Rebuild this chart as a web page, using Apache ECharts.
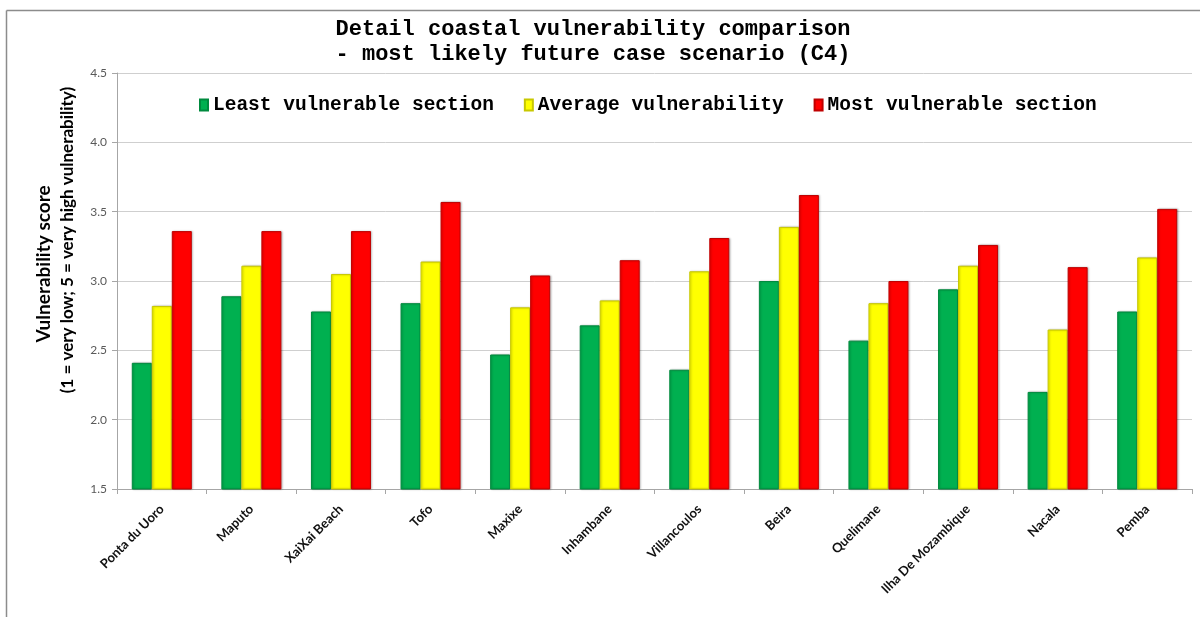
<!DOCTYPE html>
<html>
<head>
<meta charset="utf-8">
<title>Detail coastal vulnerability comparison</title>
<script src="https://cdn.jsdelivr.net/npm/echarts@6/dist/echarts.min.js"></script>
<style>
  html, body { margin: 0; padding: 0; background: #ffffff; }
  #chart { width: 1200px; height: 617px; }
</style>
</head>
<body>
<div id="chart"></div>
<script>
// Coastal sites along the Mozambique coast
const sites = ['Ponta du Uoro', 'Maputo', 'XaiXai Beach', 'Tofo', 'Maxixe', 'Inhambane',
  'Villancoulos', 'Beira', 'Quelimane', 'Ilha De Mozambique', 'Nacala', 'Pemba'];

// Vulnerability scores per site (C4 scenario)
const leastVulnerable = [2.41, 2.89, 2.78, 2.84, 2.47, 2.68, 2.36, 3.00, 2.57, 2.94, 2.20, 2.78];
const averageVulnerability = [2.82, 3.11, 3.05, 3.14, 2.81, 2.86, 3.07, 3.39, 2.84, 3.11, 2.65, 3.17];
const mostVulnerable = [3.36, 3.36, 3.36, 3.57, 3.04, 3.15, 3.31, 3.62, 3.00, 3.26, 3.10, 3.52];

const seriesNames = ['Least vulnerable section', 'Average vulnerability', 'Most vulnerable section'];
const yTicks = { min: 1.5, max: 4.5, step: 0.5 };

const mono = '"Liberation Mono", "Courier New", monospace';
const sans = 'Lato, "Open Sans", sans-serif';

// flat fill with a thin darker edge and a soft right-hand shadow
function barStyle(color, edge) {
  return {
    color: color,
    borderColor: edge,
    borderWidth: 1,
    shadowColor: 'rgba(0,0,0,0.25)',
    shadowBlur: 2,
    shadowOffsetX: 1,
    shadowOffsetY: 0
  };
}

const chart = echarts.init(document.getElementById('chart'), null, { renderer: 'canvas' });

chart.setOption({
  backgroundColor: '#ffffff',
  animation: false,
  title: {
    text: 'Detail coastal vulnerability comparison\n- most likely future case scenario (C4)',
    left: 588,
    textAlign: 'center',
    top: 12,
    textStyle: {
      fontFamily: mono,
      fontWeight: 'bold',
      fontSize: 22,
      lineHeight: 25,
      color: '#000000'
    }
  },
  legend: {
    data: seriesNames,
    left: 194,
    top: 90,
    itemWidth: 8,
    itemHeight: 11,
    itemGap: 30,
    icon: 'rect',
    textStyle: {
      fontFamily: mono,
      fontWeight: 'bold',
      fontSize: 19.5,
      color: '#000000'
    }
  },
  grid: {
    left: 117,
    right: 8,
    top: 73,
    bottom: 128,
    containLabel: false
  },
  xAxis: {
    type: 'category',
    data: sites,
    axisLine: { lineStyle: { color: '#a6a6a6', width: 1 } },
    axisTick: { show: true, length: 5, lineStyle: { color: '#a6a6a6' } },
    axisLabel: {
      rotate: 45,
      interval: 0,
      margin: 18,
      fontFamily: sans,
      fontWeight: 'bold',
      fontSize: 13,
      color: '#111111'
    },
    splitLine: { show: false }
  },
  yAxis: {
    type: 'value',
    min: yTicks.min,
    max: yTicks.max,
    interval: yTicks.step,
    axisLine: { show: true, lineStyle: { color: '#a6a6a6', width: 1 } },
    axisTick: { show: true, length: 5, lineStyle: { color: '#a6a6a6' } },
    axisLabel: {
      margin: 10,
      fontFamily: sans,
      fontSize: 12,
      color: '#595959',
      formatter: v => v.toFixed(1)
    },
    splitLine: { show: true, lineStyle: { color: '#cfcfcf', width: 1 } }
  },
  series: [
    {
      name: seriesNames[0],
      type: 'bar',
      data: leastVulnerable,
      barWidth: 20,
      barGap: '0%',
      itemStyle: barStyle('#00B050', '#008a3e')
    },
    {
      name: seriesNames[1],
      type: 'bar',
      data: averageVulnerability,
      barWidth: 20,
      barGap: '0%',
      itemStyle: barStyle('#FFFF00', '#c8c800')
    },
    {
      name: seriesNames[2],
      type: 'bar',
      data: mostVulnerable,
      barWidth: 20,
      barGap: '0%',
      itemStyle: barStyle('#FF0000', '#c00000')
    }
  ],
  graphic: [
    // outer frame: top and left edges
    {
      type: 'line',
      shape: { x1: 6.5, y1: 10.5, x2: 1200, y2: 10.5 },
      style: { stroke: '#8c8c8c', lineWidth: 1.5 },
      silent: true
    },
    {
      type: 'line',
      shape: { x1: 6.5, y1: 10.5, x2: 6.5, y2: 617 },
      style: { stroke: '#8c8c8c', lineWidth: 1.5 },
      silent: true
    },
    // y-axis title (two lines)
    {
      type: 'text',
      x: 44,
      y: 264,
      rotation: Math.PI / 2,
      style: {
        text: 'Vulnerability score',
        fontFamily: sans,
        fontWeight: 'bold',
        fontSize: 19,
        fill: '#000000',
        align: 'center',
        verticalAlign: 'middle'
      }
    },
    {
      type: 'text',
      x: 68,
      y: 240,
      rotation: Math.PI / 2,
      style: {
        text: '(1 = very low; 5 = very high vulnerability)',
        fontFamily: sans,
        fontWeight: 'bold',
        fontSize: 17,
        fill: '#000000',
        align: 'center',
        verticalAlign: 'middle'
      }
    }
  ]
});
</script>
</body>
</html>
